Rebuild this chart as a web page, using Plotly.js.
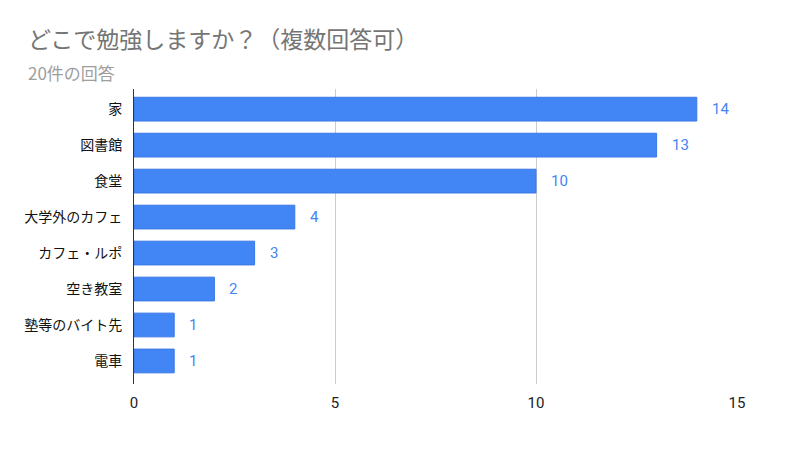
<!DOCTYPE html>
<html>
<head>
<meta charset="utf-8">
<script src="https://cdn.plot.ly/plotly-3.0.1.min.js"></script>
<style>
  html, body { margin: 0; padding: 0; background: #fff; }
  #chart { width: 800px; height: 468px; }
</style>
</head>
<body>
<div id="chart"></div>
<script>
const places = ['家', '図書館', '食堂', '大学外のカフェ', 'カフェ・ルポ', '空き教室', '塾等のバイト先', '電車']
const counts = [14, 13, 10, 4, 3, 2, 1, 1]
const xTicks = [0, 5, 10, 15]

const cjk = '"Noto Sans CJK JP", "Noto Sans", Roboto, sans-serif'
const left = -(134 - 26) / 603

const trace = {
    type: 'bar',
    orientation: 'h',
    x: counts,
    y: places,
    width: 0.66,
    marker: { color: '#4285f4', line: { color: '#3a78e6', width: 1 } },
    hoverinfo: 'skip'
}

// value labels a little to the right of each bar
const labels = places.map((p, i) => ({
    x: counts[i],
    y: p,
    xref: 'x',
    yref: 'y',
    text: String(counts[i]),
    showarrow: false,
    xanchor: 'left',
    xshift: 13,
    font: { family: 'Roboto, Arial, sans-serif', size: 15, color: '#4285f4' }
}))

const layout = {
    width: 800,
    height: 468,
    margin: { l: 134, r: 63, t: 89, b: 84 },
    paper_bgcolor: '#fff',
    plot_bgcolor: '#fff',
    showlegend: false,
    xaxis: {
        range: [0, 15],
        tickvals: xTicks,
        ticktext: xTicks.map(String),
        showgrid: true,
        gridcolor: '#cccccc',
        zeroline: false,
        showline: false,
        ticks: '',
        ticklabelstandoff: 8,
        tickfont: { family: 'Roboto, Arial, sans-serif', size: 15, color: '#222' },
        fixedrange: true
    },
    yaxis: {
        type: 'category',
        range: [7.64, -0.56],
        showgrid: false,
        showline: true,
        linecolor: '#333',
        linewidth: 1,
        ticks: '',
        ticklabelstandoff: 8,
        tickfont: { family: cjk, size: 14, color: '#111' },
        fixedrange: true
    },
    annotations: [
        {
            xref: 'paper', yref: 'paper', x: left, y: 1 + 51 / 295,
            text: 'どこで勉強しますか？（複数回答可）',
            showarrow: false, xanchor: 'left', yanchor: 'middle',
            font: { family: cjk, size: 23, color: '#757575' }
        },
        {
            xref: 'paper', yref: 'paper', x: left, y: 1 + 17 / 295,
            text: '20件の回答',
            showarrow: false, xanchor: 'left', yanchor: 'middle',
            font: { family: cjk, size: 17, color: '#9e9e9e' }
        }
    ].concat(labels)
}

Plotly.newPlot('chart', [trace], layout, { displayModeBar: false, staticPlot: true })
</script>
</body>
</html>
